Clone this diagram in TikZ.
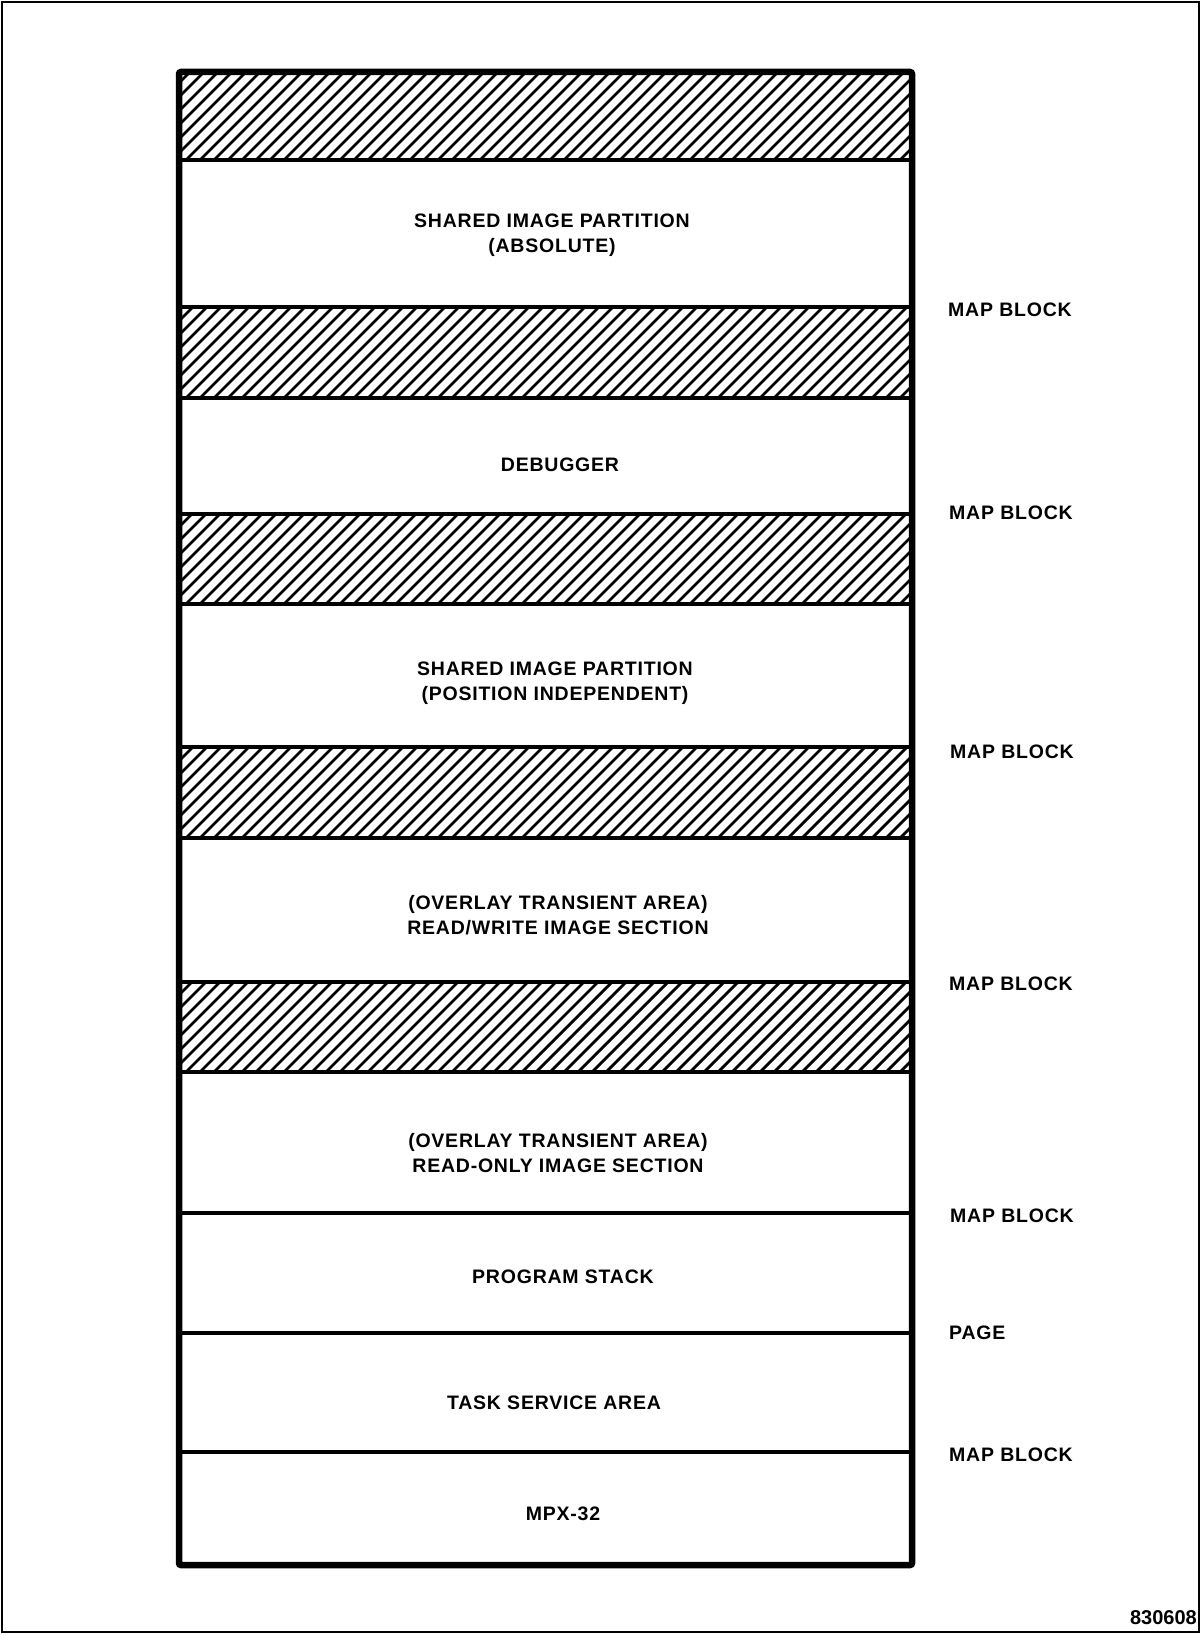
\documentclass[tikz,border=0pt]{standalone}
\usepackage{fontspec}
\setmainfont{Liberation Sans}[LetterSpace=4]
\newfontfamily\numfont{Liberation Sans}
\begin{document}
\begin{tikzpicture}[x=1pt,y=-1pt,
  lbl/.style={inner sep=0pt,align=center,font=\fontsize{19.5}{25}\selectfont\bfseries},
  side/.style={lbl,anchor=west},
  hatchline/.style={line width=2.8pt},
  divider/.style={line width=4.5pt},
  frame/.style={line width=6.5pt,rounded corners=2pt}]
\useasboundingbox (0,0) rectangle (1202,1635);
\draw[line width=2pt] (2,2) rectangle (1199,1632);
% hatched bands
\foreach \t/\b in {73/160,307/398,514/604,747/838,982/1072}{
  \begin{scope}
    \clip (179,\t) rectangle (912,\b);
    \foreach \x in {60,74,...,920} \draw[hatchline] (\x,\b) -- ++(120,-120);
  \end{scope}
}
% dividers
\foreach \y in {160,307,398,514,604,747,838,982,1072,1213,1333,1452}
  \draw[divider] (179,\y) -- (912,\y);
\draw[frame] (179,72) rectangle (912,1565);
% section texts
\node[lbl] (sip1) at (552,235.5) {SHARED IMAGE PARTITION\\(ABSOLUTE)};
\node[lbl] (dbg) at (560,465) {DEBUGGER};
\node[lbl] (sip2) at (555,683) {SHARED IMAGE PARTITION\\(POSITION INDEPENDENT)};
\node[lbl] (rw) at (558,915.5) {(OVERLAY TRANSIENT AREA)\\READ/WRITE IMAGE SECTION};
\node[lbl] (ro) at (558,1153.5) {(OVERLAY TRANSIENT AREA)\\READ-ONLY IMAGE SECTION};
\node[lbl] (stk) at (563,1277) {PROGRAM STACK};
\node[lbl] (tsa) at (554,1403) {TASK SERVICE AREA};
\node[lbl] (mpx) at (563,1514) {MPX-32};
% side labels
\node[side] (mb1) at (948,310) {MAP BLOCK};
\node[side] (mb2) at (949,513) {MAP BLOCK};
\node[side] (mb3) at (950,752) {MAP BLOCK};
\node[side] (mb4) at (949,984) {MAP BLOCK};
\node[side] (mb5) at (950,1216) {MAP BLOCK};
\node[side] (pg) at (949,1333) {PAGE};
\node[side] (mb6) at (949,1455) {MAP BLOCK};
\node[inner sep=0pt,anchor=east,font=\numfont\fontsize{20}{24}\selectfont\bfseries] (num) at (1197,1618) {830608};
\end{tikzpicture}
\end{document}
